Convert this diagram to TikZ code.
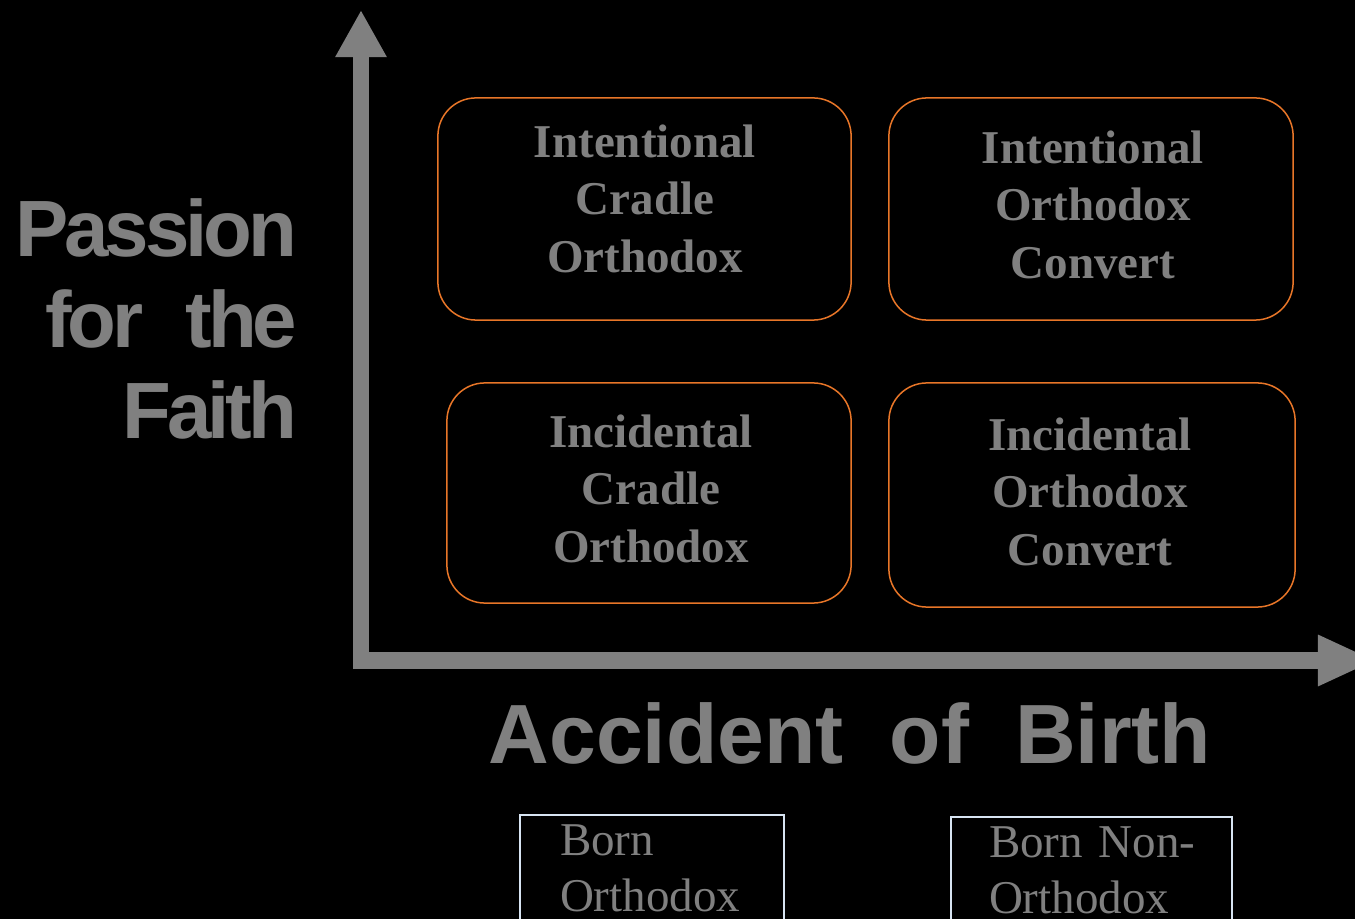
\documentclass[tikz,border=0pt]{standalone}
\usepackage{fontspec}
\setmainfont{Liberation Serif}
\newfontfamily\sidefont[LetterSpace=-5]{Liberation Sans}
\newfontfamily\basefont{Liberation Sans}
\usetikzlibrary{arrows.meta}
\definecolor{figK}{RGB}{0,0,0}
\definecolor{figG}{RGB}{128,128,128}
\definecolor{figO}{RGB}{232,118,40}
\definecolor{figW}{RGB}{215,228,242}
\tikzset{
  axisline/.style={figG, line width=0.16cm},
  quadbox/.style={draw=figO, line width=0.015cm, rounded corners=0.38cm, inner sep=0pt, outer sep=0pt},
  quadtext/.style={text=figG, align=center, inner sep=0pt, font=\bfseries\fontsize{13.37pt}{16.36pt}\selectfont},
  sidetitle/.style={text=figG, align=right, inner sep=0pt, font=\sidefont\bfseries\fontsize{22.7pt}{25.75pt}\selectfont},
  basetitle/.style={text=figG, inner sep=0pt, font=\basefont\bfseries\fontsize{23.9pt}{28pt}\selectfont},
  bornbox/.style={draw=figW, line width=0.02cm, text=figG, align=left, inner ysep=0.1cm, font=\fontsize{13.37pt}{15.9pt}\selectfont}
}

\begin{document}
\begin{tikzpicture}[x=0.01cm, y=-0.01cm]
% black page, 1355 x 919
\fill[figK] (0,0) rectangle (1355,919);
\useasboundingbox (0,0) rectangle (1355,919);
\clip (0,0) rectangle (1355,919);
% the two axes
\coordinate (origin) at (361,669);
\coordinate (ytop) at (361,10);
\coordinate (xstart) at (353,660.5);
\coordinate (xend) at (1376,660.5);
\draw[axisline, -{Triangle[length=0.47cm, width=0.48cm]}] (origin) -- (ytop);
\draw[axisline, -{Triangle[length=0.58cm, width=0.47cm]}] (xstart) -- (xend);
% axis titles
\node[sidetitle, anchor=east] (passion) at (298,319) {Passion\\for\hspace{0.42cm}the\\Faith};
\node[basetitle] (birth) at (850,733) {Accident\hspace{0.46cm}of\hspace{0.46cm}Birth};
% four quadrants
\node[quadbox, minimum width=4.13cm, minimum height=2.22cm] (icc) at (644.5,209) {};
\node[quadtext] (icctext) at (645,198.5) {Intentional\\Cradle\\Orthodox};
\node[quadbox, minimum width=4.04cm, minimum height=2.22cm] (ioc) at (1091,209) {};
\node[quadtext] (ioctext) at (1093,204.5) {Intentional\\Orthodox\\Convert};
\node[quadbox, minimum width=4.04cm, minimum height=2.20cm] (ncc) at (649,493) {};
\node[quadtext] (ncctext) at (651,488.5) {Incidental\\Cradle\\Orthodox};
\node[quadbox, minimum width=4.06cm, minimum height=2.24cm] (noc) at (1092,495) {};
\node[quadtext] (noctext) at (1090,491.5) {Incidental\\Orthodox\\Convert};
% birth boxes, cut by the lower edge
\node[bornbox, inner xsep=0.4cm, text width=1.84cm, anchor=north west] (bornorth) at (519,814) {Born\\\mbox{Orthodox}};
\node[bornbox, inner xsep=0.38cm, text width=2.05cm, anchor=north west] (bornnon) at (950,816) {\mbox{Born Non-}\\\mbox{Orthodox}};
\end{tikzpicture}
\end{document}
